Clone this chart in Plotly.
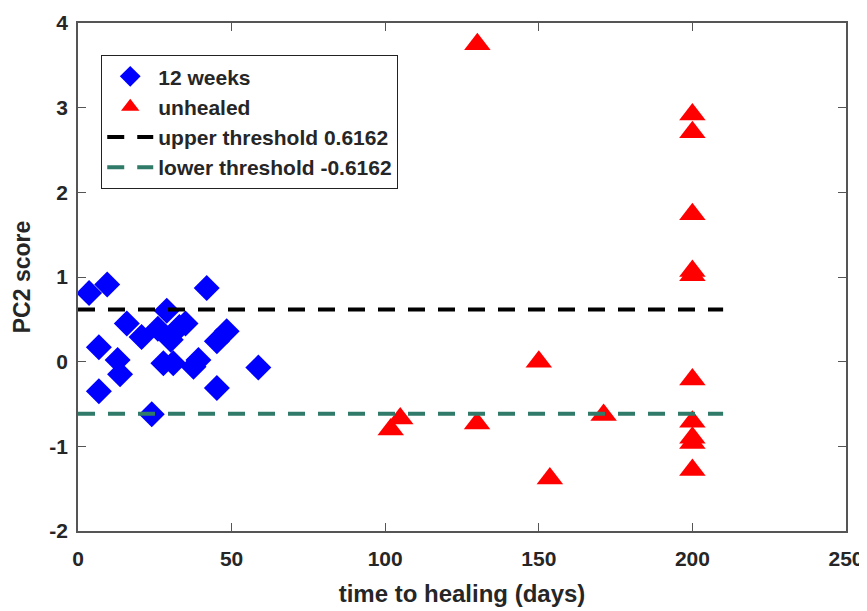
import plotly.graph_objects as go

# 12 weeks group (blue diamonds)
weeks_x = [3.6, 9.5, 41.9, 28.9, 15.9, 20.7, 26.0, 33.0, 35.0, 30.2, 48.4, 45.2,
           6.8, 12.9, 13.7, 27.8, 31.0, 37.6, 39.2, 58.7, 6.8, 45.2, 24.0]
weeks_y = [0.81, 0.91, 0.87, 0.60, 0.45, 0.29, 0.39, 0.41, 0.45, 0.26, 0.36, 0.24,
           0.17, 0.02, -0.15, -0.02, -0.02, -0.06, 0.02, -0.07, -0.35, -0.31, -0.62]

# unhealed group (red triangles)
unhealed_x = [130, 200, 200, 200, 200, 200, 150, 200, 104.9, 101.8, 129.9, 171.1,
              200, 200, 200, 153.6, 200]
unhealed_y = [3.75, 2.92, 2.71, 1.74, 1.07, 1.02, 0.0, -0.21, -0.67, -0.80, -0.73, -0.63,
              -0.71, -0.90, -0.96, -1.38, -1.28]

threshold = 0.6162
line_x = [0, 210]

x_ticks = [0, 50, 100, 150, 200, 250]
x_tick_labels = ["0", "50", "100", "150", "200", "250"]
y_ticks = [-2, -1, 0, 1, 2, 3, 4]
y_tick_labels = ["-2", "-1", "0", "1", "2", "3", "4"]

font_family = "Liberation Sans, Arial, sans-serif"
text_color = "#262626"

fig = go.Figure()
fig.add_trace(go.Scatter(x=weeks_x, y=weeks_y, mode="markers", name="12 weeks",
                         marker=dict(symbol="diamond", size=20, color="#0000ff")))
fig.add_trace(go.Scatter(x=unhealed_x, y=unhealed_y, mode="markers", name="unhealed",
                         marker=dict(symbol="triangle-up", size=23, color="#ff0000")))
fig.add_trace(go.Scatter(x=line_x, y=[threshold, threshold], mode="lines",
                         name="upper threshold 0.6162",
                         line=dict(color="#000000", width=4, dash="17px,13px")))
fig.add_trace(go.Scatter(x=line_x, y=[-threshold, -threshold], mode="lines",
                         name="lower threshold -0.6162",
                         line=dict(color="#2f7a68", width=4, dash="17px,13px")))

axis_common = dict(showgrid=False, zeroline=False, showline=True, linecolor="#555555",
                   linewidth=1.5, mirror="ticks", ticks="inside", ticklen=8,
                   tickcolor="#555555", automargin=False,
                   tickfont=dict(family=font_family, size=21, color=text_color, weight="bold"))

fig.update_layout(
    width=859, height=603,
    margin=dict(l=70, r=21, t=15, b=80),
    paper_bgcolor="white", plot_bgcolor="white",
    font=dict(family=font_family, color=text_color),
    showlegend=True,
    legend=dict(x=0.03, y=0.937, xanchor="left", yanchor="top",
                bgcolor="white", bordercolor="#222222", borderwidth=1.2,
                font=dict(family=font_family, size=21, color=text_color, weight="bold"),
                tracegroupgap=0, itemwidth=46),
    xaxis=dict(range=[0, 250], tickvals=x_ticks, ticktext=x_tick_labels,
               ticklabelstandoff=8,
               title=dict(text="time to healing (days)", standoff=16,
                          font=dict(family=font_family, size=24, color=text_color, weight="bold")),
               **axis_common),
    yaxis=dict(range=[-2, 4], tickvals=y_ticks, ticktext=y_tick_labels,
               ticklabelstandoff=4,
               title=dict(text="PC2 score", standoff=12,
                          font=dict(family=font_family, size=23, color=text_color, weight="bold")),
               **axis_common),
)

fig.write_html("out.html")
